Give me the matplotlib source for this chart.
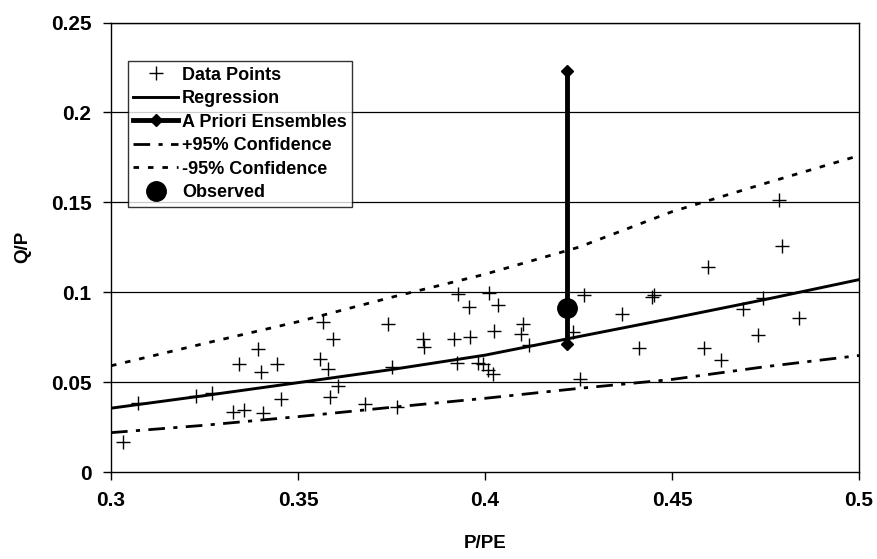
import matplotlib
matplotlib.use('Agg')
from matplotlib import pyplot as plt

plt.rcParams['font.family'] = ['Liberation Sans', 'DejaVu Sans']
plt.rcParams['font.weight'] = 'bold'

# data points (P/PE, Q/P)
pts_x = [0.3394, 0.3342, 0.3400, 0.3443, 0.3071, 0.3227, 0.3269, 0.3455, 0.3327, 0.3356,
         0.3407, 0.3033, 0.3929, 0.3958, 0.3566, 0.3740, 0.3593, 0.3833, 0.3838, 0.3918,
         0.3960, 0.3559, 0.3581, 0.3926, 0.3982, 0.3608, 0.3752, 0.3586, 0.3679, 0.3766,
         0.4012, 0.4034, 0.4265, 0.4446, 0.4453, 0.4102, 0.4024, 0.4096, 0.4367, 0.4236,
         0.4118, 0.4413, 0.3994, 0.4009, 0.4022, 0.4254, 0.4787, 0.4793, 0.4595, 0.4742,
         0.4691, 0.4840, 0.4731, 0.4586, 0.4631]
pts_y = [0.0684, 0.0599, 0.0558, 0.0601, 0.0382, 0.0424, 0.0437, 0.0404, 0.0335, 0.0345,
         0.0326, 0.0169, 0.0990, 0.0919, 0.0833, 0.0821, 0.0740, 0.0740, 0.0697, 0.0740,
         0.0749, 0.0628, 0.0571, 0.0604, 0.0608, 0.0478, 0.0582, 0.0415, 0.0376, 0.0363,
         0.0994, 0.0929, 0.0984, 0.0975, 0.0984, 0.0823, 0.0784, 0.0766, 0.0877, 0.0777,
         0.0706, 0.0688, 0.0599, 0.0567, 0.0543, 0.0517, 0.1513, 0.1259, 0.1142, 0.0966,
         0.0905, 0.0858, 0.0762, 0.0691, 0.0623]

# curves
curve_x = [0.3, 0.325, 0.35, 0.375, 0.4, 0.425, 0.45, 0.475, 0.5]
regression = [0.0355, 0.0425, 0.0497, 0.0570, 0.0650, 0.0753, 0.0855, 0.0960, 0.1070]
plus95 = [0.0219, 0.0260, 0.0308, 0.0360, 0.0410, 0.0465, 0.0515, 0.0586, 0.0648]
minus95 = [0.0591, 0.0715, 0.0836, 0.0972, 0.1100, 0.1250, 0.1448, 0.1606, 0.1760]

# a priori ensembles and observed
ens_x = [0.4219, 0.4219]
ens_y = [0.0712, 0.2230]
obs_x = [0.4219]
obs_y = [0.0910]

xticks = [0.3, 0.35, 0.4, 0.45, 0.5]
xlabels = ['0.3', '0.35', '0.4', '0.45', '0.5']
yticks = [0, 0.05, 0.1, 0.15, 0.2, 0.25]
ylabels = ['0', '0.05', '0.1', '0.15', '0.2', '0.25']

fig = plt.figure(figsize=(8.78, 5.59), dpi=100)
ax = fig.add_axes([0.1264, 0.1556, 0.8520, 0.8041])

for y in yticks[1:]:
    ax.axhline(y, color='black', lw=0.9, zorder=0)

ax.plot(pts_x, pts_y, ls='none', marker='+', ms=10, mew=1.0, color='black', label='Data Points')
ax.plot(curve_x, regression, color='black', lw=2.1, label='Regression')
ax.plot(ens_x, ens_y, color='black', lw=3.5, marker='D', ms=6.5, label='A Priori Ensembles')
ax.plot(curve_x, plus95, color='black', lw=2.0, dashes=(6, 3, 1.5, 3), label='+95% Confidence')
ax.plot(curve_x, minus95, color='black', lw=2.0, dashes=(2, 3.2), label='-95% Confidence')
ax.plot(obs_x, obs_y, ls='none', marker='o', ms=14, color='black', label='Observed', zorder=5)

ax.set_xlim(0.3, 0.5)
ax.set_ylim(0, 0.25)
ax.set_xticks(xticks)
ax.set_xticklabels(xlabels)
ax.set_yticks(yticks)
ax.set_yticklabels(ylabels)
ax.tick_params(labelsize=15, direction='out', length=6, width=1, pad=8)
for s in ax.spines.values():
    s.set_color('black')
    s.set_linewidth(1.0)

ax.set_xlabel('P/PE', fontsize=13.5, fontweight='bold', labelpad=18)
ax.set_ylabel('Q/P', fontsize=13.5, fontweight='bold', labelpad=14)

leg = ax.legend(loc='upper left', bbox_to_anchor=(0.0225, 0.914), fontsize=13,
                frameon=True, fancybox=False, edgecolor='black', handlelength=2.5,
                handletextpad=0.2, borderpad=0.3, labelspacing=0.36, borderaxespad=0)
leg.get_frame().set_linewidth(1.0)
for t in leg.get_texts():
    t.set_fontweight('bold')

fig.savefig('out.png', dpi=100)
